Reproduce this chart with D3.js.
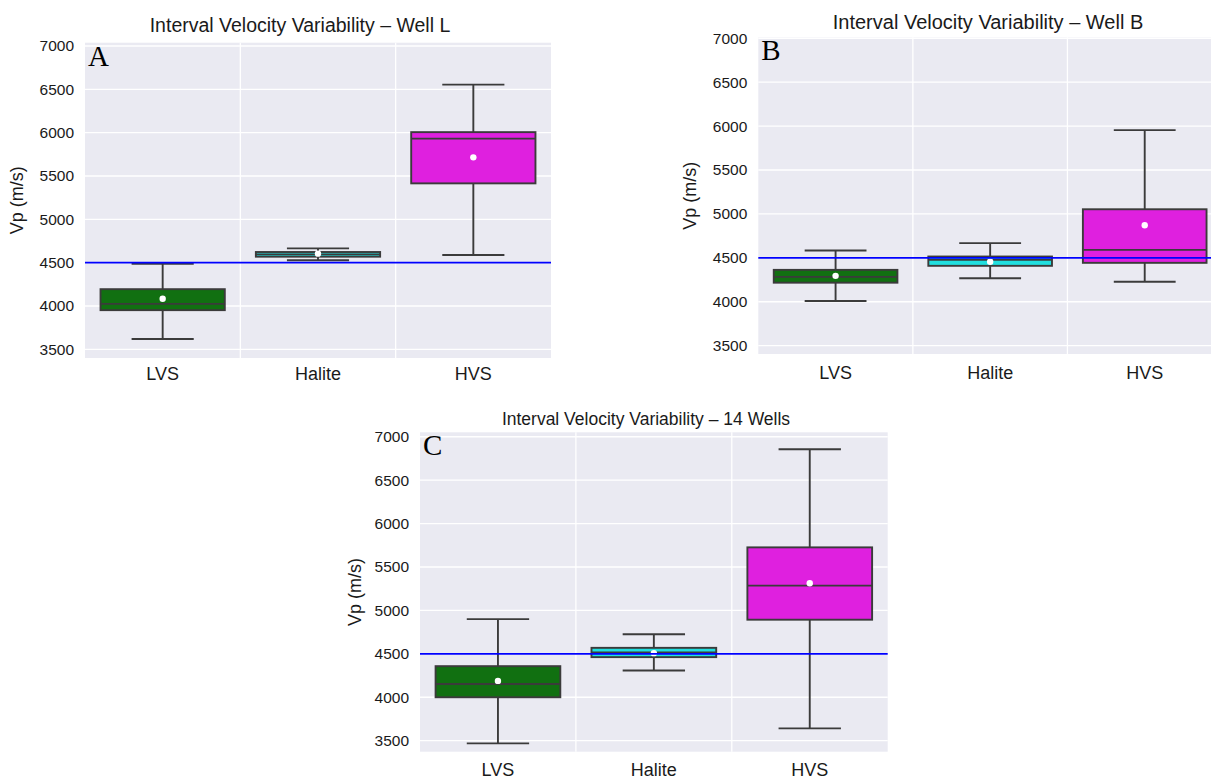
<!DOCTYPE html>
<html>
<head>
<meta charset="utf-8">
<script src="https://cdn.jsdelivr.net/npm/d3@7"></script>
<style>
  html, body { margin: 0; padding: 0; background: #ffffff; }
  svg { display: block; }
</style>
</head>
<body>
<svg id="chart" width="1211" height="780"></svg>
<script>
// ---------------- data ----------------
const categories = ["LVS", "Halite", "HVS"];
const yTicks = [3500, 4000, 4500, 5000, 5500, 6000, 6500, 7000];
const referenceVp = 4500;
const boxColors = ["#117011", "#20dfdf", "#df20df"];

// Well L
const wellL_whiskerLow  = [3619, 4527, 4588];
const wellL_q1          = [3952, 4569, 5415];
const wellL_median      = [4025, 4596, 5931];
const wellL_q3          = [4194, 4623, 6006];
const wellL_whiskerHigh = [4486, 4665, 6554];
const wellL_mean        = [4083, 4604, 5715];

// Well B
const wellB_whiskerLow  = [4008, 4268, 4228];
const wellB_q1          = [4217, 4409, 4443];
const wellB_median      = [4283, 4477, 4591];
const wellB_q3          = [4363, 4515, 5053];
const wellB_whiskerHigh = [4584, 4667, 5954];
const wellB_mean        = [4295, 4455, 4871];

// 14 Wells
const all_whiskerLow  = [3469, 4308, 3642];
const all_q1          = [4000, 4462, 4893];
const all_median      = [4153, 4515, 5285];
const all_q3          = [4358, 4569, 5726];
const all_whiskerHigh = [4900, 4726, 6855];
const all_mean        = [4188, 4508, 5312];

// ---------------- panels (layout) ----------------
const panels = [
  { letter: "A", title: "Interval Velocity Variability \u2013 Well L",
    x0: 85, x1: 551, y0: 42.7, y1: 358, domain: [3400, 7038],
    titleX: 300, titleY: 32, titleSize: 19.5, ylabX: 17, xlabY: 380,
    stats: [wellL_whiskerLow, wellL_q1, wellL_median, wellL_q3, wellL_whiskerHigh, wellL_mean] },
  { letter: "B", title: "Interval Velocity Variability \u2013 Well B",
    x0: 758.3, x1: 1222, y0: 37.3, y1: 354, domain: [3405, 7011],
    titleX: 988, titleY: 29, titleSize: 20, ylabX: 690, xlabY: 379,
    stats: [wellB_whiskerLow, wellB_q1, wellB_median, wellB_q3, wellB_whiskerHigh, wellB_mean] },
  { letter: "C", title: "Interval Velocity Variability \u2013 14 Wells",
    x0: 420, x1: 887.7, y0: 432.3, y1: 751.7, domain: [3373, 7051],
    titleX: 646, titleY: 425, titleSize: 17.5, ylabX: 355, xlabY: 776,
    stats: [all_whiskerLow, all_q1, all_median, all_q3, all_whiskerHigh, all_mean] }
];

const svg = d3.select("#chart");
const lineColor = "#3b3b3b";
const sans = '"Liberation Sans", Arial, sans-serif';
const serif = '"Liberation Serif", "Times New Roman", serif';

panels.forEach(p => {
  const g = svg.append("g");
  const x = d3.scaleBand().domain(categories).range([p.x0, p.x1]).padding(0);
  const y = d3.scaleLinear().domain(p.domain).range([p.y1, p.y0]);
  const bw = x.bandwidth();

  // background
  g.append("rect").attr("x", p.x0).attr("y", p.y0)
    .attr("width", p.x1 - p.x0).attr("height", p.y1 - p.y0).attr("fill", "#eaeaf2");

  // horizontal grid
  g.selectAll(".hg").data(yTicks).enter().append("line")
    .attr("x1", p.x0).attr("x2", p.x1)
    .attr("y1", d => y(d)).attr("y2", d => y(d))
    .attr("stroke", "#ffffff").attr("stroke-width", 1.3);
  // vertical grid at category boundaries
  g.selectAll(".vg").data(categories.slice(1)).enter().append("line")
    .attr("x1", d => x(d)).attr("x2", d => x(d))
    .attr("y1", p.y0).attr("y2", p.y1)
    .attr("stroke", "#ffffff").attr("stroke-width", 1.3);

  // y axis
  const yAxis = d3.axisLeft(y).tickValues(yTicks).tickFormat(d3.format("d")).tickSize(0).tickPadding(11);
  const ya = g.append("g").attr("transform", `translate(${p.x0},0)`).call(yAxis);
  ya.select(".domain").remove();
  ya.selectAll("text").style("font-size", "15.5px").style("fill", "#1a1a1a").style("font-family", sans);

  // x axis labels
  const xAxis = d3.axisBottom(x).tickSize(0).tickPadding(0);
  const xa = g.append("g").attr("transform", `translate(0,${p.xlabY})`).call(xAxis);
  xa.select(".domain").remove();
  xa.selectAll("text").attr("dy", 0).style("font-size", "18px").style("fill", "#1a1a1a").style("font-family", sans);

  // y label
  g.append("text").attr("transform", `translate(${p.ylabX},${(p.y0 + p.y1) / 2}) rotate(-90)`)
    .attr("text-anchor", "middle").attr("dy", "0.35em")
    .style("font-size", "18px").style("font-family", sans).style("fill", "#1a1a1a").text("Vp (m/s)");

  // title
  g.append("text").attr("x", p.titleX).attr("y", p.titleY)
    .attr("text-anchor", "middle").style("font-size", p.titleSize + "px")
    .style("font-family", sans).style("fill", "#1a1a1a").text(p.title);

  // boxes
  const [wl, q1, med, q3, wh, mean] = p.stats;
  const rows = categories.map((c, i) => ({ c, i, wl: wl[i], q1: q1[i], med: med[i], q3: q3[i], wh: wh[i], mean: mean[i] }));
  const cx = d => x(d.c) + bw / 2;
  const bg = g.selectAll(".box").data(rows).enter().append("g");
  // whiskers
  bg.append("line").attr("x1", cx).attr("x2", cx)
    .attr("y1", d => y(d.q3)).attr("y2", d => y(d.wh))
    .attr("stroke", lineColor).attr("stroke-width", 1.9);
  bg.append("line").attr("x1", cx).attr("x2", cx)
    .attr("y1", d => y(d.q1)).attr("y2", d => y(d.wl))
    .attr("stroke", lineColor).attr("stroke-width", 1.9);
  // caps
  ["wh", "wl"].forEach(k => {
    bg.append("line").attr("x1", d => cx(d) - bw * 0.2).attr("x2", d => cx(d) + bw * 0.2)
      .attr("y1", d => y(d[k])).attr("y2", d => y(d[k]))
      .attr("stroke", lineColor).attr("stroke-width", 1.9);
  });
  // box
  bg.append("rect").attr("x", d => cx(d) - bw * 0.4).attr("width", bw * 0.8)
    .attr("y", d => y(d.q3)).attr("height", d => y(d.q1) - y(d.q3))
    .attr("fill", d => boxColors[d.i]).attr("stroke", lineColor).attr("stroke-width", 1.9);
  // median
  bg.append("line").attr("x1", d => cx(d) - bw * 0.4).attr("x2", d => cx(d) + bw * 0.4)
    .attr("y1", d => y(d.med)).attr("y2", d => y(d.med))
    .attr("stroke", lineColor).attr("stroke-width", 1.9);
  // mean marker
  bg.append("circle").attr("cx", cx).attr("cy", d => y(d.mean)).attr("r", 3.2)
    .attr("fill", "#ffffff");

  // reference line
  g.append("line").attr("x1", p.x0).attr("x2", p.x1)
    .attr("y1", y(referenceVp)).attr("y2", y(referenceVp))
    .attr("stroke", "#0000ff").attr("stroke-width", 1.8);

  // panel letter
  g.append("text").attr("x", p.x0 + 3).attr("y", p.y0 + 23)
    .style("font-family", serif).style("font-size", "29px").style("fill", "#000").text(p.letter);
});
</script>
</body>
</html>
